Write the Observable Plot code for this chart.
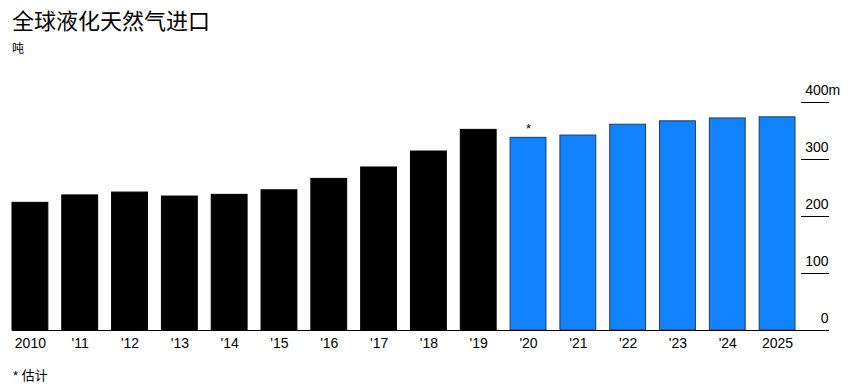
<!DOCTYPE html>
<html><head><meta charset="utf-8">
<script src="https://cdn.jsdelivr.net/npm/d3@7"></script>
<script src="https://cdn.jsdelivr.net/npm/@observablehq/plot@0.6"></script>
<style>
body{margin:0;background:#fff;font-family:"Liberation Sans",Arial,"Noto Sans CJK SC",sans-serif;color:#000;}
#wrap{position:relative;width:854px;height:387px;overflow:hidden;}
#title{position:absolute;left:12px;top:5px;font-size:22px;line-height:28px;font-family:"Noto Sans CJK SC","Liberation Sans",sans-serif;}
#sub{position:absolute;left:12px;top:39px;font-size:12px;line-height:18px;font-family:"Noto Sans CJK SC",sans-serif;}
#chart{position:absolute;left:0;top:58px;}
#note{position:absolute;left:13px;top:367px;font-size:13px;line-height:18px;font-family:"Liberation Sans","Noto Sans CJK SC",sans-serif;}
</style></head>
<body><div id="wrap">
<div id="title">全球液化天然气进口</div>
<div id="sub">吨</div>
<div id="chart"></div>
<div id="note">* 估计</div>
</div>
<script>
const years = ["2010","'11","'12","'13","'14","'15","'16","'17","'18","'19","'20","'21","'22","'23","'24","2025"];
const values = [224,237,242,235,238,246,266,286,314,352,338,342,361,367,372,374];
const kinds = ["actual","actual","actual","actual","actual","actual","actual","actual","actual","actual","forecast","forecast","forecast","forecast","forecast","forecast"];
const yTicks = [0,100,200,300,400];
const yTickLabels = ["0","100","200","300","400"];
const yUnit = "m";
const noteYear = "'20";

const data = years.map((y,i)=>({year:y,value:values[i],kind:kinds[i]}));
const noted = data.filter(d=>d.year===noteYear);

const chart = Plot.plot({
  width: 854,
  height: 302,
  marginTop: 44,
  marginBottom: 30,
  marginLeft: 7,
  marginRight: 54,
  style: {fontFamily: "'Liberation Sans', Arial, sans-serif", fontSize: "14px", color: "#000", background: "transparent"},
  x: {domain: years, paddingInner: 0.28, paddingOuter: 0.1, round: false, label: null},
  y: {domain: [0,400], label: null},
  color: {domain: ["actual","forecast"], range: ["#000000","#1283ff"]},
  marks: [
    Plot.barY(data, {x:"year", y:"value", fill:"kind", stroke: d=>d.kind==="forecast" ? "#1c3a66" : "#000", strokeWidth: 1}),
    Plot.axisX({tickSize: 0, tickPadding: 8, fontSize: 14}),
    Plot.axisY({anchor: "right", ticks: yTicks, tickSize: 28, tickFormat: () => "", stroke: "#000"}),
    Plot.text(yTicks, {y: d=>d, text: (d,i)=>yTickLabels[i], frameAnchor: "right", dx: 28, dy: -12, textAnchor: "end", fontSize: 14}),
    Plot.text([yTicks[yTicks.length-1]], {y: d=>d, text: ()=>yUnit, frameAnchor: "right", dx: 28, dy: -12, textAnchor: "start", fontSize: 14}),
    Plot.ruleY([0], {insetLeft: 5, insetRight: -28, stroke: "#000"}),
    Plot.text(noted, {x:"year", y:"value", text: ()=>"*", dy: -9, fontSize: 13})
  ]
});
document.getElementById("chart").appendChild(chart);
</script>
</body></html>
